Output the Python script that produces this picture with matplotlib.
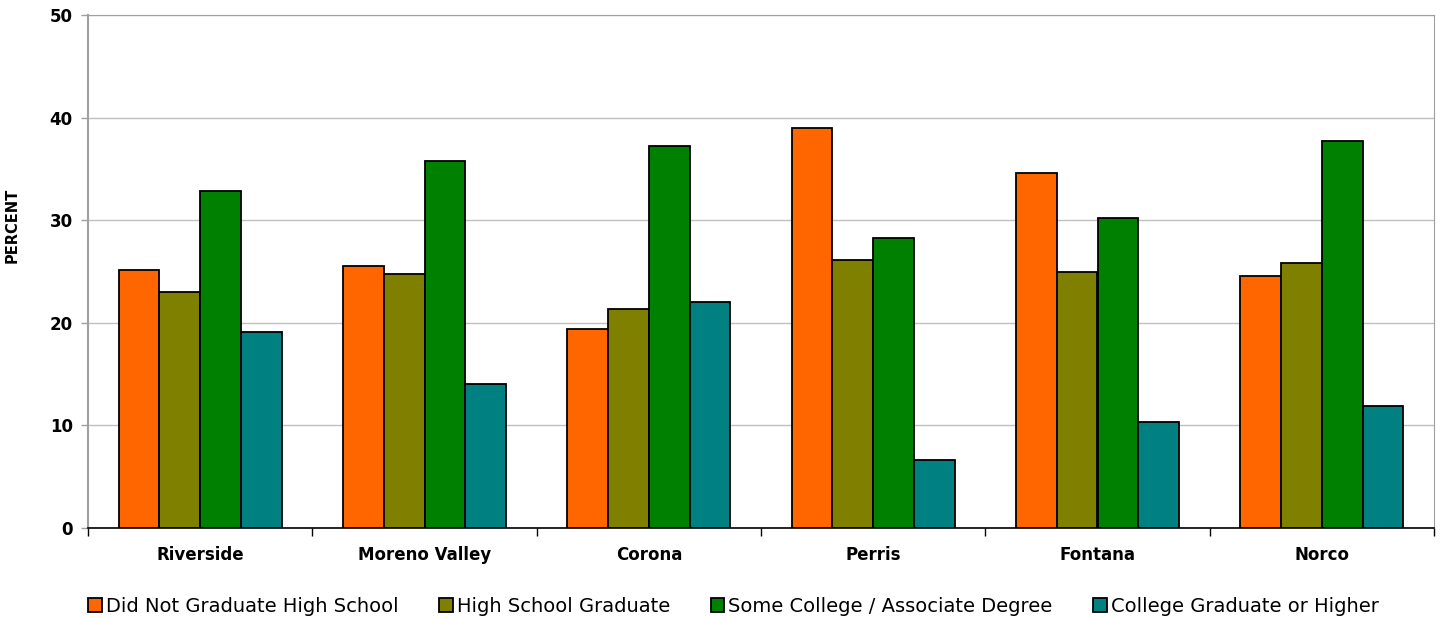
import matplotlib
matplotlib.use("Agg")
import matplotlib.pyplot as plt
import numpy as np

categories = ["Riverside", "Moreno Valley", "Corona", "Perris", "Fontana", "Norco"]
series_names = ["Did Not Graduate High School", "High School Graduate",
                "Some College / Associate Degree", "College Graduate or Higher"]
did_not_graduate = [25.1, 25.5, 19.4, 39.0, 34.6, 24.6]
hs_graduate = [23.0, 24.8, 21.3, 26.1, 25.0, 25.8]
some_college = [32.8, 35.8, 37.2, 28.3, 30.2, 37.7]
college_grad = [19.1, 14.0, 22.0, 6.6, 10.3, 11.9]
colors = ["#FF6600", "#808000", "#008000", "#008080"]
yticks = [0, 10, 20, 30, 40, 50]

plt.rcParams['font.family'] = ['DejaVu Sans']

fig = plt.figure(figsize=(14.41, 6.17), dpi=100)
ax = fig.add_axes([88/1441, 1-528/617, (1434-88)/1441, (528-15)/617])

data = [did_not_graduate, hs_graduate, some_college, college_grad]
x = np.arange(len(categories))
w = 0.182
for i, (vals, c, name) in enumerate(zip(data, colors, series_names)):
    ax.bar(x + (i - 1.5) * w, vals, width=w, color=c, edgecolor="black",
           linewidth=1.3, label=name, zorder=3)

ax.set_xlim(-0.5, len(categories) - 0.5)
ax.set_ylim(0, 50)
ax.set_yticks(yticks)
ax.set_yticklabels([str(v) for v in yticks], fontsize=12, fontweight="bold")
ax.yaxis.grid(True, color="#C0C0C0", linewidth=1, zorder=0)
ax.set_axisbelow(True)

ax.set_xticks(x)
ax.set_xticklabels(categories, fontsize=12, fontweight="bold")
ax.tick_params(axis="x", length=0, pad=13)
ax.set_xticks(np.arange(len(categories) + 1) - 0.5, minor=True)
ax.tick_params(axis="x", which="minor", length=6, color="black", width=1)
ax.tick_params(axis="y", length=5, color="#A0A0A0", width=1, pad=6)

for s in ["top", "right"]:
    ax.spines[s].set_color("#A0A0A0")
ax.spines["left"].set_color("#A0A0A0")
ax.spines["left"].set_linewidth(1.5)
ax.spines["bottom"].set_color("black")
ax.spines["bottom"].set_linewidth(1.2)

ax.set_ylabel("PERCENT", fontsize=10.5, fontweight="bold")
ax.yaxis.set_label_coords(-0.0505, 0.589)

leg = fig.legend(*ax.get_legend_handles_labels(), loc="center",
                 bbox_to_anchor=(0.509, 1-606/617), ncol=4,
                 frameon=False, fontsize=14, handlelength=0.7, handleheight=0.7,
                 handletextpad=0.2, columnspacing=2.1, borderpad=0)

fig.savefig("out.png", dpi=100)
